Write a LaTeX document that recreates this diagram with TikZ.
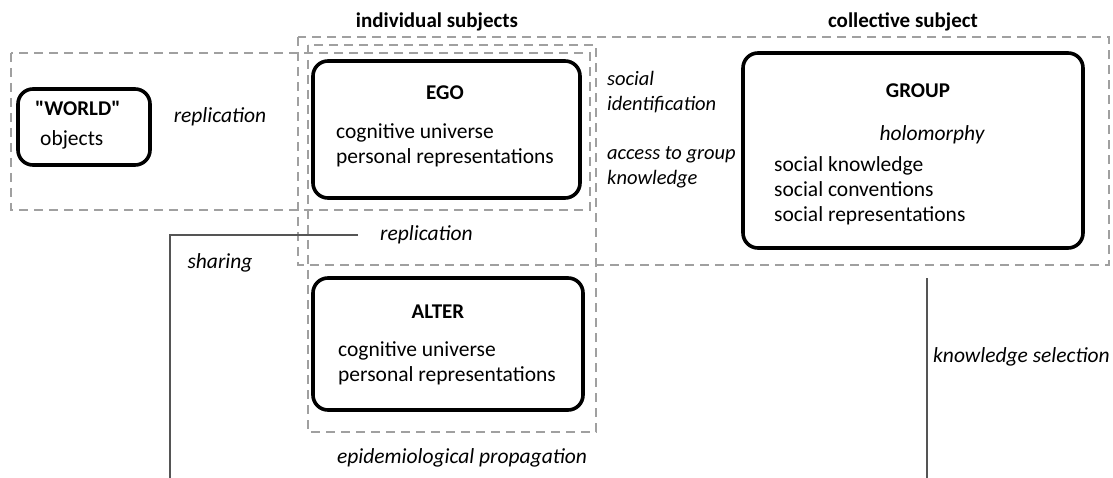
\documentclass[tikz,border=0pt]{standalone}
\usepackage{fontspec}
\setmainfont{Carlito}[Ligatures=TeXOff]
\usepackage{xcolor}
\definecolor{zonegray}{HTML}{A0A0A0}
\definecolor{linkgray}{HTML}{555555}

\begin{document}
\begin{tikzpicture}[x=1pt, y=-1pt,
                agent/.style={draw=black, line width=3.6pt, rounded corners=15pt, inner sep=0pt},
                zone/.style={draw=zonegray, line width=1.1pt, dash pattern=on 9pt off 6pt},
                link/.style={draw=linkgray, line width=1.3pt},
                lbl/.style={inner sep=0pt, font=\fontsize{21.5}{25}\selectfont},
                ttl/.style={lbl, font=\fontsize{21}{25}\selectfont\bfseries},
                act/.style={lbl, font=\fontsize{21.5}{25}\selectfont\itshape}]
                \useasboundingbox (0,0) rectangle (1113,478);

                % dashed zones
                \draw[zone] (11,53) rectangle (590,210);
                \draw[zone] (308,45) rectangle (596,432);
                \draw[zone] (298,37) rectangle (1109,265);

                % headings
                \node[ttl] (indiv) at (437,22) {individual subjects};
                \node[ttl] (coll) at (903,22) {collective subject};

                % world
                \node[agent, minimum width=132pt, minimum height=76pt] (worldbox) at (84,127) {};
                \node[ttl, anchor=west] (worldttl) at (35,108) {"WORLD"};
                \node[lbl, anchor=west] (worldobj) at (40,140) {objects};
                \node[act] (rep1) at (220,117) {replication};

                % ego
                \node[agent, minimum width=267pt, minimum height=137pt] (egobox) at (446.5,129.5) {};
                \node[ttl] (egottl) at (445,93) {EGO};
                \node[lbl, anchor=west, align=left] (egotxt) at (336,145) {cognitive universe\\personal representations};

                % alter
                \node[agent, minimum width=270pt, minimum height=132pt] (alterbox) at (448,344) {};
                \node[ttl] (alterttl) at (438,312) {ALTER};
                \node[lbl, anchor=west, align=left] (altertxt) at (338,363) {cognitive universe\\personal representations};

                % group
                \node[agent, minimum width=340pt, minimum height=195pt] (groupbox) at (913,150.5) {};
                \node[ttl] (groupttl) at (918,91) {GROUP};
                \node[act] (holo) at (932,135) {holomorphy};
                \node[lbl, anchor=west, align=left] (grouptxt) at (774,190.5) {social knowledge\\social conventions\\social representations};

                % processes
                \node[act, anchor=west, align=left, font=\fontsize{20.5}{25}\selectfont\itshape] (ident) at (607,92.5) {social\\identification};
                \node[act, anchor=west, align=left, font=\fontsize{20.5}{25}\selectfont\itshape] (access) at (607,167) {access to group\\knowledge};
                \node[act, anchor=west, inner xsep=22pt] (rep2) at (358,235) {replication};
                \node[act] (sharing) at (220,263) {sharing};
                \node[act] (epid) at (462,458) {epidemiological propagation};
                \node[act, anchor=west] (knowsel) at (933,357) {knowledge selection};

                \coordinate (shareend) at (170,478);
                \coordinate (seltop) at (927,278);
                \coordinate (selend) at (927,478);
                \draw[link] (rep2.west) -| (shareend);
                \draw[link] (seltop) -- (selend);
            \end{tikzpicture}
\end{document}
